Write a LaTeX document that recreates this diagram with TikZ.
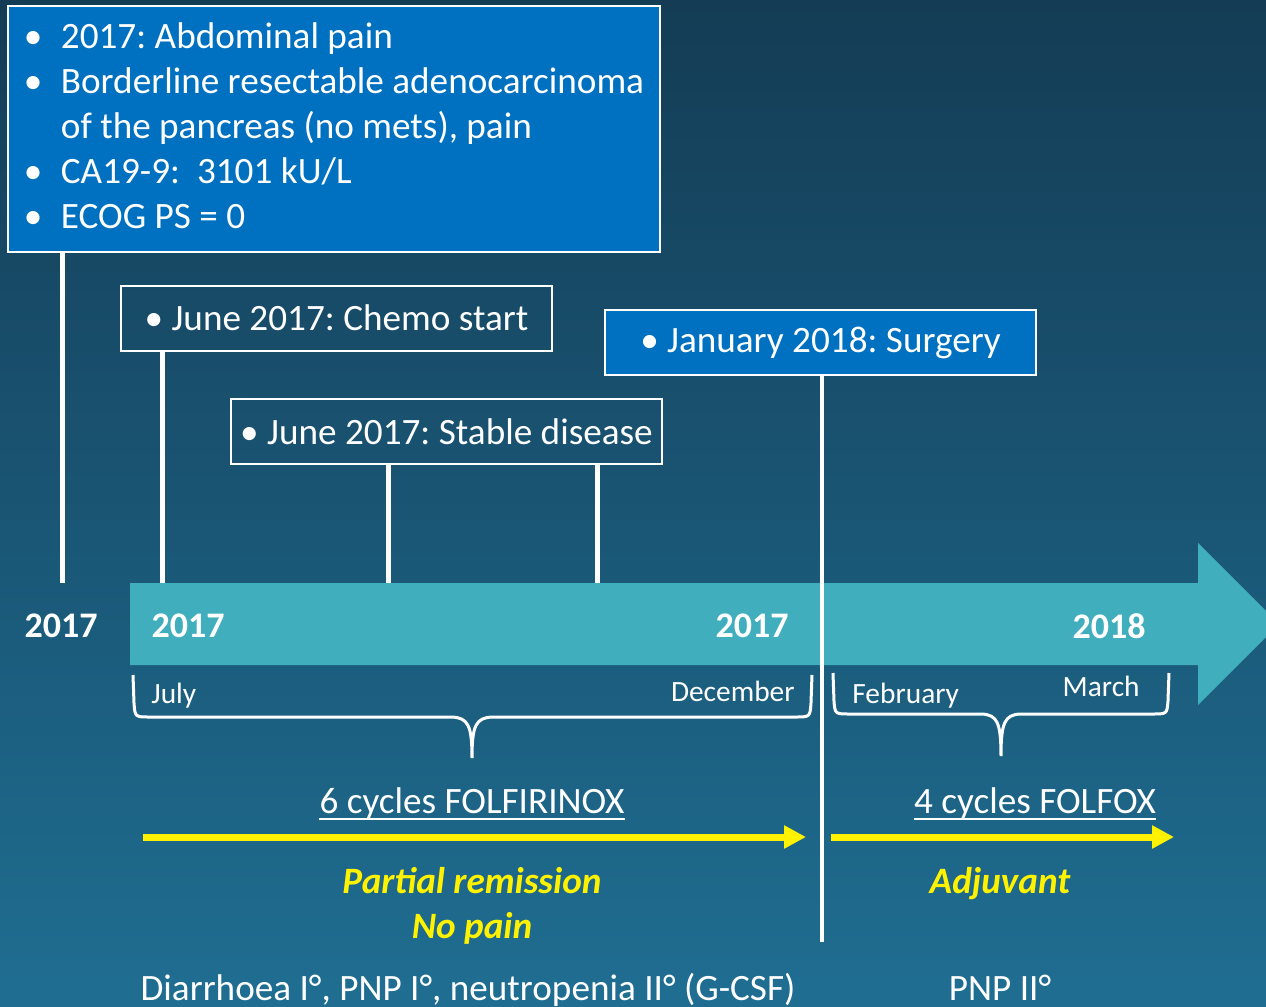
\documentclass[tikz,border=0pt]{standalone}
\usepackage{fontspec}
\setmainfont{Carlito}
\usetikzlibrary{arrows.meta}
\definecolor{bgtop}{RGB}{20,60,85}
\definecolor{bgbot}{RGB}{31,110,146}
\definecolor{boxblue}{RGB}{0,112,192}
\definecolor{axisteal}{RGB}{64,174,189}
\frenchspacing

\begin{document}
\begin{tikzpicture}[x=0.5pt, y=-0.5pt,
  box/.style={draw=white, line width=1pt, text=white, minimum width=215.5pt, minimum height=32.5pt,
    inner sep=0pt, font=\fontsize{18.6}{22}\selectfont},
  stem/.style={white, line width=2.5pt},
  year/.style={text=white, inner sep=0pt, font=\fontsize{18}{20}\selectfont\bfseries},
  month/.style={text=white, inner sep=0pt, font=\fontsize{14.7}{16}\selectfont},
  brace/.style={white, line width=1.5pt},
  therapy/.style={draw=yellow, line width=3.5pt, -{Triangle[length=11pt, width=11pt]}},
  note/.style={text=yellow, inner sep=0pt, font=\fontsize{18.6}{22}\selectfont\bfseries\itshape},
  plain/.style={text=white, inner sep=0pt, font=\fontsize{18.6}{22}\selectfont}]
  \shade[top color=bgtop, bottom color=bgbot] (0,0) rectangle (1266,1007);
  \useasboundingbox (0,0) rectangle (1266,1007);
  \clip (0,0) rectangle (1266,1007);

  \node[box, fill=boxblue, minimum width=326pt, minimum height=123pt, anchor=north west,
    font=\fontsize{18.6}{22.5}\selectfont] (history) at (7,5)
    {\begin{tabular}{@{}p{18.5pt}@{}l@{}}
      \textbullet & 2017: Abdominal pain\\
      \textbullet & Borderline resectable adenocarcinoma\\
                  & of the pancreas (no mets), pain\\
      \textbullet & CA19-9:\ \ 3101 kU/L\\
      \textbullet & ECOG PS = 0
    \end{tabular}};
  \node[box] (chemo) at (336.5,318) {\textbullet\ June 2017: Chemo start};
  \node[box] (stable) at (446.5,431.5) {\textbullet\ June 2017: Stable disease};
  \node[box, fill=boxblue] (surgery) at (820.5,342.5) {\textbullet\ January 2018: Surgery};

  \fill[axisteal] (130,583) -- (1198,583) -- (1198,543) -- (1279,624) -- (1198,705)
    -- (1198,665) -- (130,665) -- cycle;

  \coordinate (t0) at (62,583);
  \coordinate (t1) at (162,583);
  \coordinate (t2) at (388,583);
  \coordinate (t3) at (597,583);
  \coordinate (t4) at (822,942);
  \draw[stem] (t0 |- history.south) -- (t0);
  \draw[stem] (t1 |- chemo.south) -- (t1);
  \draw[stem] (t2 |- stable.south) -- (t2);
  \draw[stem] (t3 |- stable.south) -- (t3);
  \draw[stem, line width=2pt] (t4 |- surgery.south) -- (t4);

  \node[year] (y0) at (61,626) {2017};
  \node[year] (y1) at (188,626) {2017};
  \node[year] (y2) at (752,626) {2017};
  \node[year] (y3) at (1109,626) {2018};

  \draw[brace] (133,675) -- (134,703) .. controls (135,717) .. (150,717) -- (452,717)
    .. controls (468,718) and (472,725) .. (472,758)
    .. controls (472,725) and (476,718) .. (492,717) -- (795,717)
    .. controls (810,717) .. (811,703) -- (812,675);
  \draw[brace] (833,673) -- (834,701) .. controls (835,714) .. (850,714) -- (982,714)
    .. controls (997,715) and (1001,722) .. (1001,756)
    .. controls (1001,722) and (1005,715) .. (1020,714) -- (1152,714)
    .. controls (1167,714) .. (1168,701) -- (1169,673);

  \node[month, anchor=base west] (jul) at (151,703) {July};
  \node[month, anchor=base east] (dec) at (795,701) {December};
  \node[month, anchor=base west] (feb) at (852,703) {February};
  \node[month, anchor=base east] (mar) at (1140,696) {March};

  \node[plain, anchor=base] (folfirinox) at (472,813) {6 cycles FOLFIRINOX};
  \node[plain, anchor=base] (folfox) at (1035,813) {4 cycles FOLFOX};
  \draw[white, line width=1pt] ([yshift=-3pt]folfirinox.base west) -- ([yshift=-3pt]folfirinox.base east);
  \draw[white, line width=1pt] ([yshift=-3pt]folfox.base west) -- ([yshift=-3pt]folfox.base east);

  \coordinate (a0) at (143,837);
  \coordinate (a1) at (806,837);
  \coordinate (b0) at (831,837);
  \coordinate (b1) at (1174,837);
  \draw[therapy] (a0) -- (a1);
  \draw[therapy] (b0) -- (b1);

  \node[note, anchor=base] (remission) at (472,893) {Partial remission};
  \node[note, anchor=base] (nopain) at (472,938) {No pain};
  \node[note, anchor=base] (adjuvant) at (1000,893) {Adjuvant};

  \node[plain, anchor=base] (tox1) at (468,1000) {Diarrhoea I°, PNP I°, neutropenia II° (G-CSF)};
  \node[plain, anchor=base] (tox2) at (1000,1000) {PNP II°};
\end{tikzpicture}
\end{document}
